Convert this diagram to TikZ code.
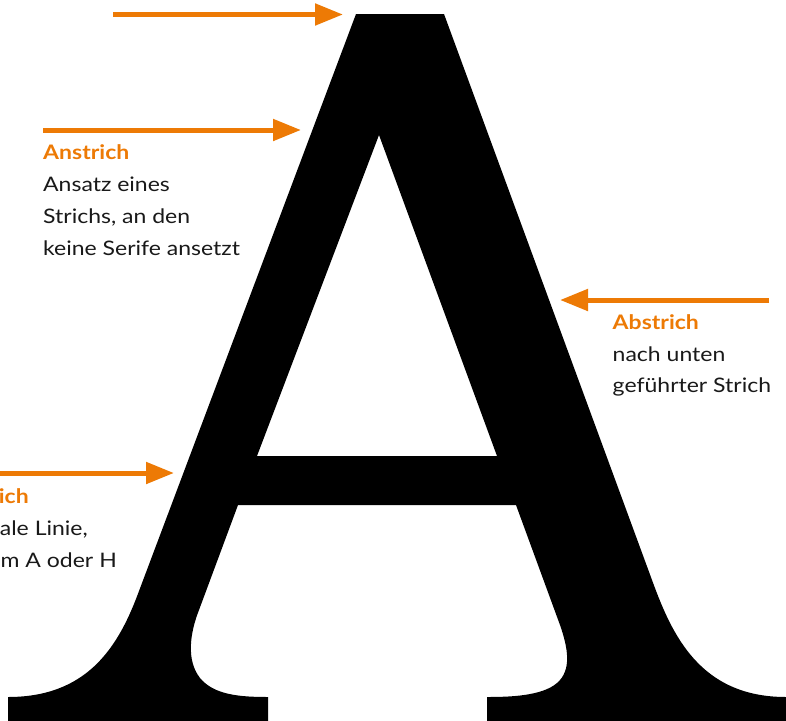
\documentclass[tikz,border=0pt]{standalone}
\usepackage{fontspec}
\setmainfont[FakeStretch=1.15]{Lato}
\usetikzlibrary{arrows.meta}
\definecolor{acc}{RGB}{237,122,5}
\definecolor{ink}{RGB}{25,25,25}
\begin{document}
\begin{tikzpicture}[x=1pt,y=-1pt,
  pointer/.style={draw=acc, line width=5pt, -{Triangle[length=28pt,width=21pt]}},
  head/.style={font=\fontsize{20}{24}\selectfont\bfseries, text=acc, inner sep=0pt, anchor=base west},
  body/.style={font=\fontsize{20}{24}\selectfont, text=ink, inner sep=0pt, anchor=base west},
]
\useasboundingbox (0,0) rectangle (786,720);
\clip (0,0) rectangle (786,720);
\fill[white] (0,0) rectangle (786,720);
% the letter A
\fill[black, even odd rule]
  (356,14) -- (444,14) -- (652,580)
  .. controls (672,635) and (700,697) .. (786,697)
  -- (800,697) -- (800,730) -- (487,730) -- (487,697)
  .. controls (510,697) and (542,696) .. (557,683)
  .. controls (572,670) and (568,648) .. (560,625)
  -- (516,505) -- (238,505) -- (199,610)
  .. controls (190,633) and (186,660) .. (200,678)
  .. controls (214,695) and (240,697) .. (268,697)
  -- (268,730) -- (8,730) -- (8,697)
  .. controls (85,697) and (116.8,650) .. (137.5,595) -- cycle
  (379,135) -- (497,456) -- (257,456) -- cycle;
% arrows
\coordinate (a1s) at (113,14.5);  \coordinate (a1e) at (343,14.5);
\coordinate (a2s) at (43,130);    \coordinate (a2e) at (301,130);
\coordinate (a3s) at (769,300);   \coordinate (a3e) at (560,300);
\coordinate (a4s) at (-5,473);    \coordinate (a4e) at (174,473);
\draw[pointer] (a1s) -- (a1e);
\draw[pointer] (a2s) -- (a2e);
\draw[pointer] (a3s) -- (a3e);
\draw[pointer] (a4s) -- (a4e);
% texts
\node[head] (t1) at (43,159.5) {Anstrich};
\node[body] (t1a) at (43,191.5) {Ansatz eines};
\node[body] (t1b) at (43,223.3) {Strichs, an den};
\node[body] (t1c) at (43,255) {keine Serife ansetzt};
\node[head] (t2) at (612.5,329) {Abstrich};
\node[body] (t2a) at (612.5,361) {nach unten};
\node[body] (t2b) at (612.5,392.5) {geführter Strich};
\node[head, anchor=base east] (t3) at (29,503) {ich};
\node[body, anchor=base east] (t3a) at (88,535) {ale Linie,};
\node[body, anchor=base east] (t3b) at (117,567) {m A oder H};
\end{tikzpicture}
\end{document}
